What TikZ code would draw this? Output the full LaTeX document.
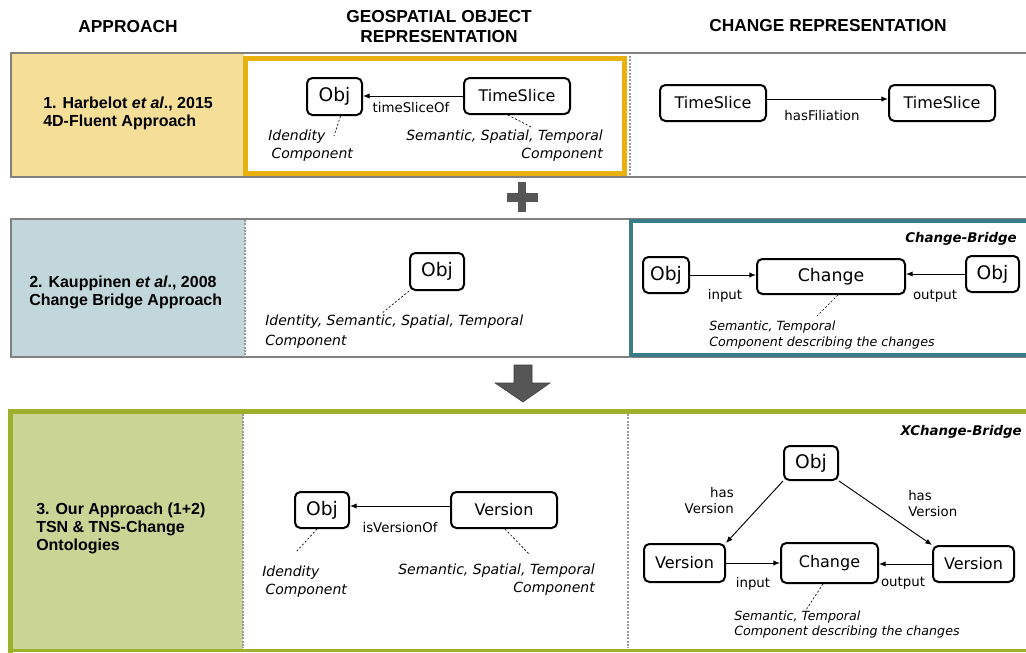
\documentclass[tikz,border=0pt]{standalone}
\usepackage{fontspec}
\setmainfont{Liberation Sans}
\newfontfamily\dv{DejaVu Sans}
\usetikzlibrary{arrows.meta}
\definecolor{yelfill}{HTML}{F4DE98}
\definecolor{bluefill}{HTML}{C1D7DC}
\definecolor{olivefill}{HTML}{C9D495}
\definecolor{orangeframe}{HTML}{E9B110}
\definecolor{tealframe}{HTML}{3A7D89}
\definecolor{oliveframe}{HTML}{9DB02C}
\definecolor{rowgray}{HTML}{808080}
\definecolor{dotgray}{HTML}{9A9A9A}
\definecolor{symgray}{HTML}{565656}
\tikzset{
  box/.style={draw, line width=1.5pt, rounded corners=4pt, inner sep=0pt, fill=white,
    font=\dv\fontsize{12}{14}\selectfont},
  objbox/.style={box, font=\dv\fontsize{14}{16}\selectfont},
  lbl/.style={font=\dv\fontsize{10}{12}\selectfont, inner sep=0pt},
  ann/.style={font=\dv\itshape\fontsize{10.5}{13.5}\selectfont, inner sep=0pt},
  annsm/.style={font=\dv\itshape\fontsize{9.5}{12}\selectfont, inner sep=0pt},
  bridge/.style={font=\dv\bfseries\itshape\fontsize{10}{12}\selectfont, inner sep=0pt},
  rel/.style={-{Latex[length=5pt,width=4pt]}, line width=0.7pt},
  leader/.style={dash pattern=on 1.5pt off 1.5pt, line width=0.5pt},
  rowline/.style={draw=rowgray, line width=1.1pt},
  dotln/.style={draw=dotgray, dash pattern=on 1.5pt off 1pt, line width=0.9pt},
  hdr/.style={font=\bfseries\fontsize{13}{15}\selectfont, align=center, inner sep=0pt},
  appr/.style={font=\bfseries\fontsize{12}{13.5}\selectfont, align=left, anchor=west, inner sep=0pt},
}
\begin{document}
\begin{tikzpicture}[x=0.75pt,y=-0.75pt]
\fill[white] (0,0) rectangle (1026,653);
\useasboundingbox (0,0) rectangle (1026,653);

% ---------- headers
\node[hdr] (hA) at (128,27) {APPROACH};
\node[hdr] (hB) at (439,27) {GEOSPATIAL OBJECT\\REPRESENTATION};
\node[hdr] (hC) at (828,26) {CHANGE REPRESENTATION};

% ---------- row 1
\fill[yelfill] (11,53) rectangle (244,177);
\draw[rowline] (1026,53) -- (11,53) -- (11,177) -- (1026,177);
\draw[dotln] (630,56) -- (630,176);
\draw[orangeframe, line width=3.75pt] (245.5,58.5) rectangle (624.5,173.5);
\node[appr] (a1) at (43,113) {1. Harbelot \textit{et al}., 2015\\4D-Fluent Approach};

\node[objbox, minimum width=41.25pt, minimum height=27.75pt] (o1) at (334.5,96.5) {Obj};
\node[box, minimum width=79.5pt, minimum height=27pt] (t1) at (517,96) {TimeSlice};
\draw[rel] (t1.west) -- (o1.east |- t1.west);
\node[lbl] (l1) at (411,108) {timeSliceOf};
\coordinate (c1) at (334,136);
\draw[leader] ([xshift=4.5pt]o1.south) -- (c1);
\node[ann, align=left, anchor=west] (n1) at (268,146) {Idendity\\\hspace*{2.5pt}Component};
\coordinate (c2) at (533,128);
\draw[leader] ([xshift=-6.75pt]t1.south) -- (c2);
\node[ann, align=right, anchor=east] (n2) at (603,146) {Semantic, Spatial, Temporal\\Component};

\node[box, minimum width=79.5pt, minimum height=27pt] (tA) at (713,103) {TimeSlice};
\node[box, minimum width=79.5pt, minimum height=27pt] (tB) at (942,103) {TimeSlice};
\draw[rel] ([yshift=3pt]tA.east) -- ([yshift=3pt]tB.west);
\node[lbl] (l2) at (822,116) {hasFiliation};

% ---------- plus
\fill[symgray] (518,182) rectangle (526,212);
\fill[symgray] (507,193) rectangle (538,202);

% ---------- row 2
\fill[bluefill] (11,219) rectangle (245,357);
\draw[rowline] (1026,219) -- (11,219) -- (11,357) -- (1026,357);
\draw[dotln] (245,220) -- (245,357);
\draw[dotln] (630,220) -- (630,357);
\draw[tealframe, line width=3pt] (1026,221) -- (631,221) -- (631,355) -- (1026,355);
\node[appr] (a2) at (29,292) {2. Kauppinen \textit{et al}., 2008\\Change Bridge Approach};

\node[objbox, minimum width=40.5pt, minimum height=27.75pt] (o2) at (437,271.5) {Obj};
\coordinate (c3) at (381,314);
\draw[leader] (o2.south west) -- (c3);
\node[ann, align=left, anchor=west, font=\dv\itshape\fontsize{10.5}{15}\selectfont] (n3) at (265,332) {Identity, Semantic, Spatial, Temporal\\Component};

\node[bridge, anchor=east] (b1) at (1017,239) {Change-Bridge};
\node[objbox, minimum width=34.5pt, minimum height=27pt] (oL2) at (666,275) {Obj};
\node[box, minimum width=111pt, minimum height=26.25pt, font=\dv\fontsize{13}{15}\selectfont] (ch2) at (831,276.5) {Change};
\node[objbox, minimum width=39.75pt, minimum height=27pt] (oR2) at (992.5,274) {Obj};
\draw[rel] (oL2.east) -- (ch2.west |- oL2.east);
\draw[rel] (oR2.west) -- (ch2.east |- oR2.west);
\node[lbl] (l3) at (725,296) {input};
\node[lbl] (l4) at (935,296) {output};
\coordinate (c4) at (816,317);
\draw[leader] ([xshift=5.25pt]ch2.south) -- (c4);
\node[annsm, align=left, anchor=west] (n4) at (709,335) {Semantic, Temporal\\Component describing the changes};

% ---------- down arrow
\filldraw[fill=symgray, draw=symgray!70!black, line width=0.4pt]
  (514,365) -- (532,365) -- (532,383) -- (550,383) -- (523,402) -- (495,383) -- (514,383) -- cycle;

% ---------- row 3
\fill[olivefill] (12,413) rectangle (243,649);
\draw[oliveframe, line width=3.75pt] (1026,411.5) -- (10,411.5) -- (10,653);
\draw[oliveframe, line width=2.25pt] (10,650) -- (1026,650);
\draw[dotln] (243,414) -- (243,648);
\draw[dotln] (628,414) -- (628,648);
\node[appr] (a3) at (36,528) {3. Our Approach (1+2)\\TSN \& TNS-Change\\Ontologies};

\node[objbox, minimum width=40.5pt, minimum height=27pt] (o3) at (322,510) {Obj};
\node[box, minimum width=79.5pt, minimum height=27pt] (v3) at (504,510) {Version};
\draw[rel] ([yshift=3pt]v3.west) -- ([yshift=3pt]o3.east);
\node[lbl] (l5) at (400,528) {isVersionOf};
\coordinate (c5) at (296,552);
\draw[leader] ([xshift=-3.75pt]o3.south) -- (c5);
\node[ann, align=left, anchor=west] (n5) at (262,582) {Idendity\\\hspace*{2.5pt}Component};
\coordinate (c6) at (530,555);
\draw[leader] ([xshift=0.75pt]v3.south) -- (c6);
\node[ann, align=right, anchor=east] (n6) at (595,580) {Semantic, Spatial, Temporal\\Component};

\node[bridge, anchor=east] (b2) at (1022,432) {XChange-Bridge};
\node[objbox, minimum width=40.5pt, minimum height=25.5pt] (oT) at (811,463) {Obj};
\node[box, minimum width=60.75pt, minimum height=28.5pt] (vL) at (684.5,563) {Version};
\node[box, minimum width=72.75pt, minimum height=30pt] (ch3) at (829.5,563) {Change};
\node[box, minimum width=60.75pt, minimum height=27pt] (vR) at (973.5,564) {Version};
\draw[rel] (oT.south west) -- (vL.north east);
\draw[rel] (oT.south east) -- (vR.north west);
\node[lbl, align=right, anchor=east, font=\dv\fontsize{10}{12}\selectfont] (l6) at (734,501) {has\\Version};
\node[lbl, align=left, anchor=west, font=\dv\fontsize{10}{12}\selectfont] (l7) at (908,504) {has\\Version};
\draw[rel] (vL.east) -- (ch3.west |- vL.east);
\draw[rel] (vR.west) -- (ch3.east |- vR.west);
\node[lbl] (l8) at (753,584) {input};
\node[lbl] (l9) at (903,583) {output};
\coordinate (c7) at (806,610);
\draw[leader] ([xshift=-4.9pt]ch3.south) -- (c7);
\node[annsm, align=left, anchor=west, font=\dv\itshape\fontsize{9.5}{11.25}\selectfont] (n7) at (734,624.5) {Semantic, Temporal\\Component describing the changes};
\end{tikzpicture}
\end{document}
